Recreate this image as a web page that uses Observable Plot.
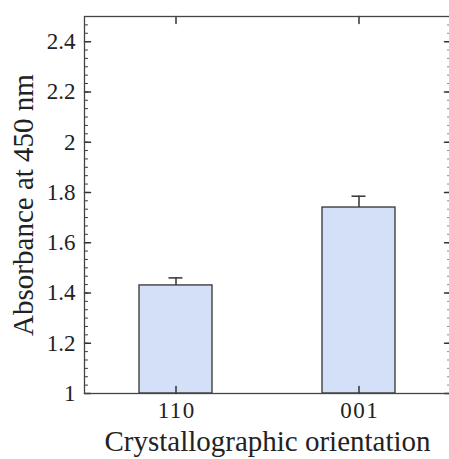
<!DOCTYPE html>
<html>
<head>
<meta charset="utf-8">
<script src="https://cdn.jsdelivr.net/npm/d3@7"></script>
<script src="https://cdn.jsdelivr.net/npm/@observablehq/plot@0.6"></script>
<style>
  html, body { margin: 0; padding: 0; background: #fff; overflow: hidden; }
  #chart svg { max-width: none !important; }
  #chart g[aria-label="x-axis tick label"] text { letter-spacing: 1.5px; }
</style>
</head>
<body>
<div id="chart"></div>
<script>
const orientations = ["110", "001"];
const absorbance = [1.43, 1.74];
const errorUpper = [1.46, 1.785];
const yMajorTicks = [1, 1.2, 1.4, 1.6, 1.8, 2, 2.2, 2.4];
const yMinorTicks = d3.range(0, 46).map(i => 1 + i / 30);
const xTitle = "Crystallographic orientation";
const yTitle = "Absorbance at 450 nm";

const data = orientations.map((o, i) => ({orientation: o, value: absorbance[i], upper: errorUpper[i]}));

const serif = "Liberation Serif";
const tickShape = {draw(context, l) { context.moveTo(0, 0); context.lineTo(0, -l); }};
const ink = "#333";

const chart = Plot.plot({
  width: 451,
  height: 459,
  marginLeft: 84,
  marginRight: 1,
  marginTop: 16,
  marginBottom: 66,
  x: {type: "band", domain: orientations, paddingInner: 0.6, paddingOuter: 0.3, axis: null},
  y: {domain: [1, 2.5], axis: null},
  marks: [
    Plot.barY(data, {x: "orientation", y1: 1, y2: "value", fill: "rgb(211,224,247)", stroke: ink, strokeWidth: 1.3}),
    Plot.ruleX(data, {x: "orientation", y1: "value", y2: "upper", stroke: ink, strokeWidth: 1.5}),
    Plot.tickY(data, {x: "orientation", y: "upper", stroke: ink, strokeWidth: 1.5, inset: 29.5}),
    Plot.vector(yMinorTicks, {y: d => d, frameAnchor: "left", rotate: 90, length: 3, anchor: "start", shape: tickShape, stroke: ink, strokeWidth: 1}),
    Plot.vector(yMajorTicks, {y: d => d, frameAnchor: "left", rotate: 90, length: 6, anchor: "start", shape: tickShape, stroke: ink, strokeWidth: 1.5}),
    Plot.vector(yMinorTicks, {y: d => d, frameAnchor: "right", rotate: -90, length: 3, anchor: "start", shape: tickShape, stroke: "#888", strokeWidth: 1}),
    Plot.vector(yMajorTicks, {y: d => d, frameAnchor: "right", rotate: -90, length: 6, anchor: "start", shape: tickShape, stroke: ink, strokeWidth: 1.5}),
    Plot.vector(orientations, {x: d => d, frameAnchor: "bottom", rotate: 0, length: 7, anchor: "start", shape: tickShape, stroke: ink, strokeWidth: 1.5}),
    Plot.vector(orientations, {x: d => d, frameAnchor: "top", rotate: 180, length: 7, anchor: "start", shape: tickShape, stroke: ink, strokeWidth: 1.5}),
    Plot.frame({stroke: "#444", strokeWidth: 1.3}),
    Plot.axisY({ticks: yMajorTicks, tickSize: 0, tickPadding: 9, fontSize: 23, fontFamily: serif, fill: "#222",
      tickFormat: d => String(Math.round(d * 10) / 10), label: null}),
    Plot.axisX({tickSize: 0, tickPadding: 8, dx: 0.75, fontSize: 23, fontFamily: serif, fill: "#222", label: null}),
    Plot.text([xTitle], {frameAnchor: "bottom", dy: 57, lineAnchor: "bottom", textAnchor: "middle", fontSize: 29, fontFamily: serif, fill: "#222"}),
    Plot.text([yTitle], {frameAnchor: "left", dx: -51.5, rotate: -90, lineAnchor: "bottom", textAnchor: "middle", fontSize: 29, fontFamily: serif, fill: "#222"})
  ]
});
document.getElementById("chart").appendChild(chart);
</script>
</body>
</html>
